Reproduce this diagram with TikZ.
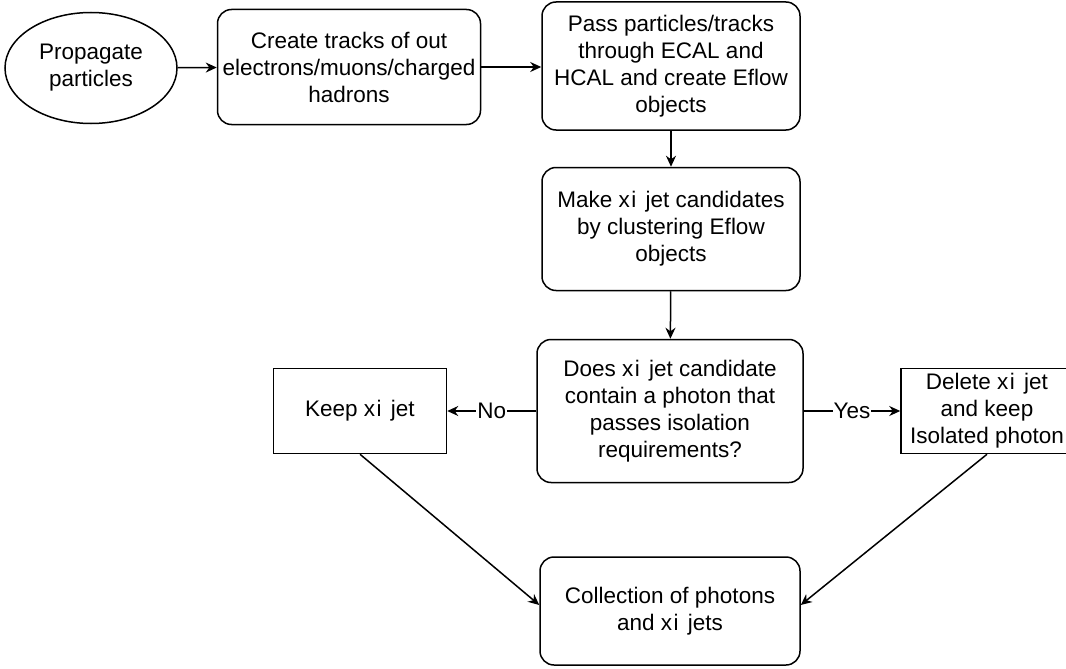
\documentclass[tikz,border=0pt]{standalone}
\usepackage{fontspec}
\setmainfont{Liberation Sans}
\usetikzlibrary{shapes.geometric,arrows.meta}

\newcommand{\xiname}{x\kern1.5pt i\kern3pt\ }

\begin{document}
\begin{tikzpicture}[
            x=1pt, y=-1pt,
            every node/.style={
                align=center,
                font=\fontsize{22.5}{27}\selectfont,
                line width=1.5pt,
                inner sep=0pt
            },
            stepbox/.style={
                draw,
                rounded corners=14pt
            },
            plainbox/.style={
                draw
            },
            startnode/.style={
                draw,
                ellipse
            },
            flow/.style={
                line width=1.5pt,
                -{Stealth[length=11pt,width=10pt]}
            },
            answer/.style={
                fill=white,
                inner sep=1pt
            }
        ]
            \useasboundingbox (0,0) rectangle (1066,669);

            \node[startnode, minimum width=172pt, minimum height=111pt] (prop) at (91,68) {Propagate\\particles};
            \node[stepbox, minimum width=263pt, minimum height=115pt] (tracks) at (349,67) {Create tracks of out\\electrons/muons/charged\\hadrons};
            \node[stepbox, minimum width=258pt, minimum height=128pt] (calo) at (671,66) {Pass particles/tracks\\through ECAL and\\HCAL and create Eflow\\objects};
            \node[stepbox, minimum width=258pt, minimum height=123pt] (cand) at (671,229) {Make \xiname jet candidates\\by clustering Eflow\\objects};
            \node[stepbox, minimum width=266pt, minimum height=143pt] (test) at (670,411) {Does \xiname jet candidate\\contain a photon that\\passes isolation\\requirements?};
            \node[plainbox, minimum width=173pt, minimum height=85pt] (keep) at (360,411) {Keep \xiname jet};
            \node[plainbox, minimum width=172pt, minimum height=85pt] (delete) at (987,411) {Delete \xiname jet\\and keep\\Isolated photon};
            \node[stepbox, minimum width=260pt, minimum height=108pt] (coll) at (670,611) {Collection of photons\\and \xiname jets};

            \draw[flow] (prop) -- (tracks);
            \draw[flow] (tracks.east) -- (calo.west |- tracks.east);
            \draw[flow] (calo) -- (cand);
            \draw[flow] (cand) -- (test);
            \draw[flow] (test) -- node[answer] {No} (keep);
            \draw[flow] (test) -- node[answer] {Yes} (delete);
            \draw[flow] (keep.south) -- ([yshift=6pt]coll.west);
            \draw[flow] (delete.south) -- ([yshift=6pt]coll.east);
        \end{tikzpicture}
\end{document}
